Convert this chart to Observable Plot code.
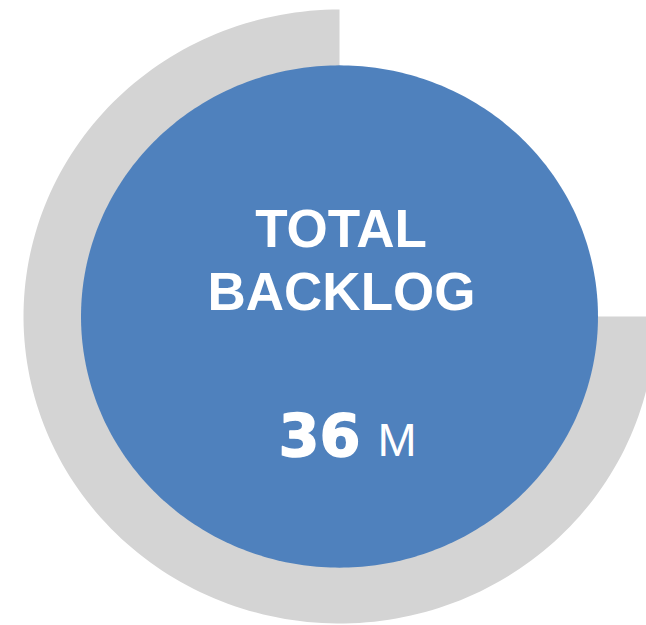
<!DOCTYPE html>
<html>
<head>
<meta charset="utf-8">
<script src="https://cdn.jsdelivr.net/npm/d3@7"></script>
<script src="https://cdn.jsdelivr.net/npm/@observablehq/plot@0.6"></script>
<style>
  html, body { margin: 0; padding: 0; background: #ffffff; overflow: hidden; }
  #chart { width: 646px; height: 625px; }
</style>
</head>
<body>
<div id="chart"></div>
<script>
// ---- data ----
const sliceNames = ["Gap", "Backlog"];
const sliceValues = [25, 75];
const sliceColors = ["none", "#d4d4d4"];
const titleLines = ["TOTAL", "BACKLOG"];
const totalValue = [36];
const totalUnit = ["M"];
const innerColor = "#4f81bd";

// ---- geometry (unit circle in data space) ----
const W = 646, H = 625;
const cx = 339, cy = 316, rx = 316, ry = 307;
const innerR = 0.818;

const total = d3.sum(sliceValues);
let acc = 0;
const sectors = [];
sliceValues.forEach((v, i) => {
  const a0 = acc / total * 2 * Math.PI;
  const a1 = (acc + v) / total * 2 * Math.PI;
  acc += v;
  if (sliceColors[i] === "none") return;
  const n = 200;
  sectors.push({name: sliceNames[i], x: 0, y: 0, color: sliceColors[i]});
  for (let k = 0; k <= n; k++) {
    const a = a0 + (a1 - a0) * k / n;
    sectors.push({name: sliceNames[i], x: Math.sin(a), y: Math.cos(a), color: sliceColors[i]});
  }
});
const disc = d3.range(0, 361).map(d => {
  const a = d / 180 * Math.PI;
  return {x: innerR * Math.sin(a), y: innerR * Math.cos(a)};
});

const px2x = p => (p - cx) / rx;
const px2y = p => (cy - p) / ry;

const chart = Plot.plot({
  width: W,
  height: H,
  margin: 0,
  style: {background: "#ffffff"},
  x: {domain: [px2x(0), px2x(W)], axis: null},
  y: {domain: [px2y(H), px2y(0)], axis: null},
  marks: [
    Plot.line(sectors, {x: "x", y: "y", z: "name", fill: "color", stroke: "none", curve: "linear"}),
    Plot.line(disc, {x: "x", y: "y", fill: innerColor, stroke: "none"}),
    Plot.text([titleLines[0]], {x: () => px2x(340.5), y: () => px2y(246), text: d => d, fill: "white",
      fontSize: 53, fontWeight: "bold", fontFamily: "Liberation Sans, Arial, sans-serif", lineAnchor: "bottom"}),
    Plot.text([titleLines[1]], {x: () => px2x(341), y: () => px2y(309), text: d => d, fill: "white",
      fontSize: 53, fontWeight: "bold", fontFamily: "Liberation Sans, Arial, sans-serif", lineAnchor: "bottom"}),
    Plot.text(totalValue, {x: () => px2x(360), y: () => px2y(455), text: d => String(d), fill: "white",
      stroke: "white", strokeWidth: 1.4,
      fontSize: 59, fontWeight: "bold", fontFamily: "DejaVu Sans, sans-serif", textAnchor: "end", lineAnchor: "bottom"}),
    Plot.text(totalUnit, {x: () => px2x(377), y: () => px2y(455), text: d => d, fill: "white",
      fontSize: 47, fontWeight: "normal", fontFamily: "Liberation Sans, Arial, sans-serif", textAnchor: "start", lineAnchor: "bottom"})
  ]
});
document.getElementById("chart").append(chart);
</script>
</body>
</html>
